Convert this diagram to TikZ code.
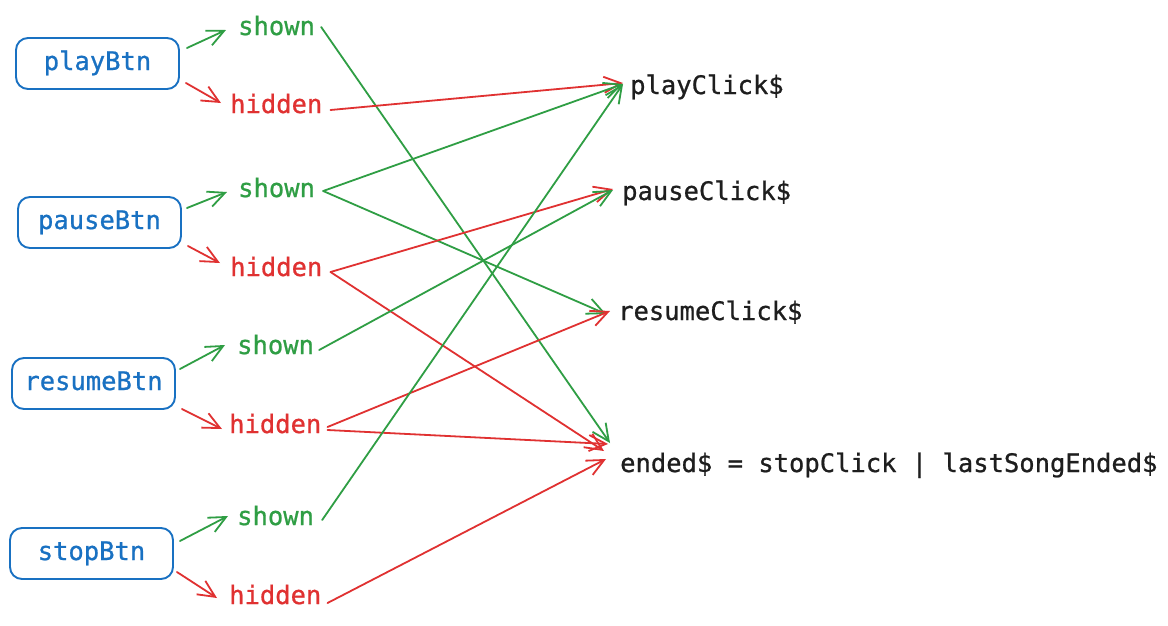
\documentclass[tikz,border=0pt]{standalone}
\usepackage{fontspec}
\newfontfamily\codefont[FakeBold=0.8]{DejaVu Sans Mono}
\usetikzlibrary{arrows.meta}
\definecolor{cgreen}{HTML}{2F9E44}
\definecolor{cred}{HTML}{E03131}
\definecolor{cblue}{HTML}{1971C2}
\definecolor{cink}{HTML}{1E1E1E}
\begin{document}
\begin{tikzpicture}[x=1pt,y=-1pt,
  font=\codefont\fontsize{25.5}{30}\selectfont,
  btn/.style={draw=cblue, text=cblue, line width=1.9pt, rounded corners=12pt,
    minimum width=163pt, minimum height=51pt, inner sep=0pt,
    text height=19pt, text depth=6pt},
  lbl/.style={anchor=base west, inner sep=0pt, text height=17pt, text depth=5pt},
  gl/.style={lbl, text=cgreen},
  rl/.style={lbl, text=cred},
  tl/.style={lbl, text=cink},
  conn/.style={line width=1.8pt, line cap=round, line join=round,
    -{Straight Barb[length=17pt,width=16pt,line width=1.8pt]}},
  garr/.style={conn, draw=cgreen},
  rarr/.style={conn, draw=cred}
]
\fill[white] (0,0) rectangle (1168,625);
\useasboundingbox (0,0) rectangle (1168,625);

% buttons
\node[btn] (pb) at (97.5,63.5) {playBtn};
\node[btn] (zb) at (99.5,222.5) {pauseBtn};
\node[btn] (rb) at (93.5,383.5) {resumeBtn};
\node[btn] (sb) at (91.5,553.5) {stopBtn};

% shown / hidden labels
\node[gl] (s1) at (238,35) {shown};
\node[rl] (h1) at (230,113) {hidden};
\node[gl] (s2) at (238,197) {shown};
\node[rl] (h2) at (230,276) {hidden};
\node[gl] (s3) at (237,354) {shown};
\node[rl] (h3) at (229,433) {hidden};
\node[gl] (s4) at (237,525) {shown};
\node[rl] (h4) at (229,604) {hidden};

% targets
\node[tl] (pc) at (630,94) {playClick\$};
\node[tl] (zc) at (622,200) {pauseClick\$};
\node[tl] (rc) at (618,320) {resumeClick\$};
\node[tl] (en) at (620,472) {ended\$ = stopClick | lastSongEnded\$};

% button -> label
\draw[garr] ([shift={(7,-15.5)}]pb.east) -- ([shift={(-12,1)}]s1.west);
\draw[rarr] ([shift={(6,19.5)}]pb.east) -- ([shift={(-9,-4)}]h1.west);
\draw[garr] ([shift={(5,-14.5)}]zb.east) -- ([shift={(-11,1)}]s2.west);
\draw[rarr] ([shift={(6,23.5)}]zb.east) -- ([shift={(-10,-7)}]h2.west);
\draw[garr] ([shift={(4,-14.5)}]rb.east) -- ([shift={(-12,-3)}]s3.west);
\draw[rarr] ([shift={(6,25.5)}]rb.east) -- ([shift={(-7,2)}]h3.west);
\draw[garr] ([shift={(6,-12.5)}]sb.east) -- ([shift={(-9,-3)}]s4.west);
\draw[rarr] ([shift={(3,18.5)}]sb.east) -- ([shift={(-12,0)}]h4.west);

% label -> target
\draw[garr] ([shift={(6,-2)}]s1.east) -- ([shift={(-10,-23)}]en.west);
\draw[rarr] ([shift={(8,3)}]h1.east) -- ([shift={(-7,-5)}]pc.west);
\draw[garr] ([shift={(8,0)}]s2.east) -- ([shift={(-7,-4)}]pc.west);
\draw[garr] ([shift={(8,0)}]s2.east) -- ([shift={(-12,0)}]rc.west);
\draw[rarr] ([shift={(8,2)}]h2.east) -- ([shift={(-9,-5)}]zc.west);
\draw[rarr] ([shift={(8,2)}]h2.east) -- ([shift={(-16,-15)}]en.west);
\draw[garr] ([shift={(5,2)}]s3.east) -- ([shift={(-9,-4)}]zc.west);
\draw[rarr] ([shift={(6,0)}]h3.east) -- ([shift={(-8,-3)}]rc.west);
\draw[rarr] ([shift={(6,3)}]h3.east) -- ([shift={(-12,-22)}]en.west);
\draw[garr] ([shift={(8,1)}]s4.east) -- ([shift={(-7,-4)}]pc.west);
\draw[rarr] ([shift={(6,5)}]h4.east) -- ([shift={(-14,-7)}]en.west);
\end{tikzpicture}
\end{document}
